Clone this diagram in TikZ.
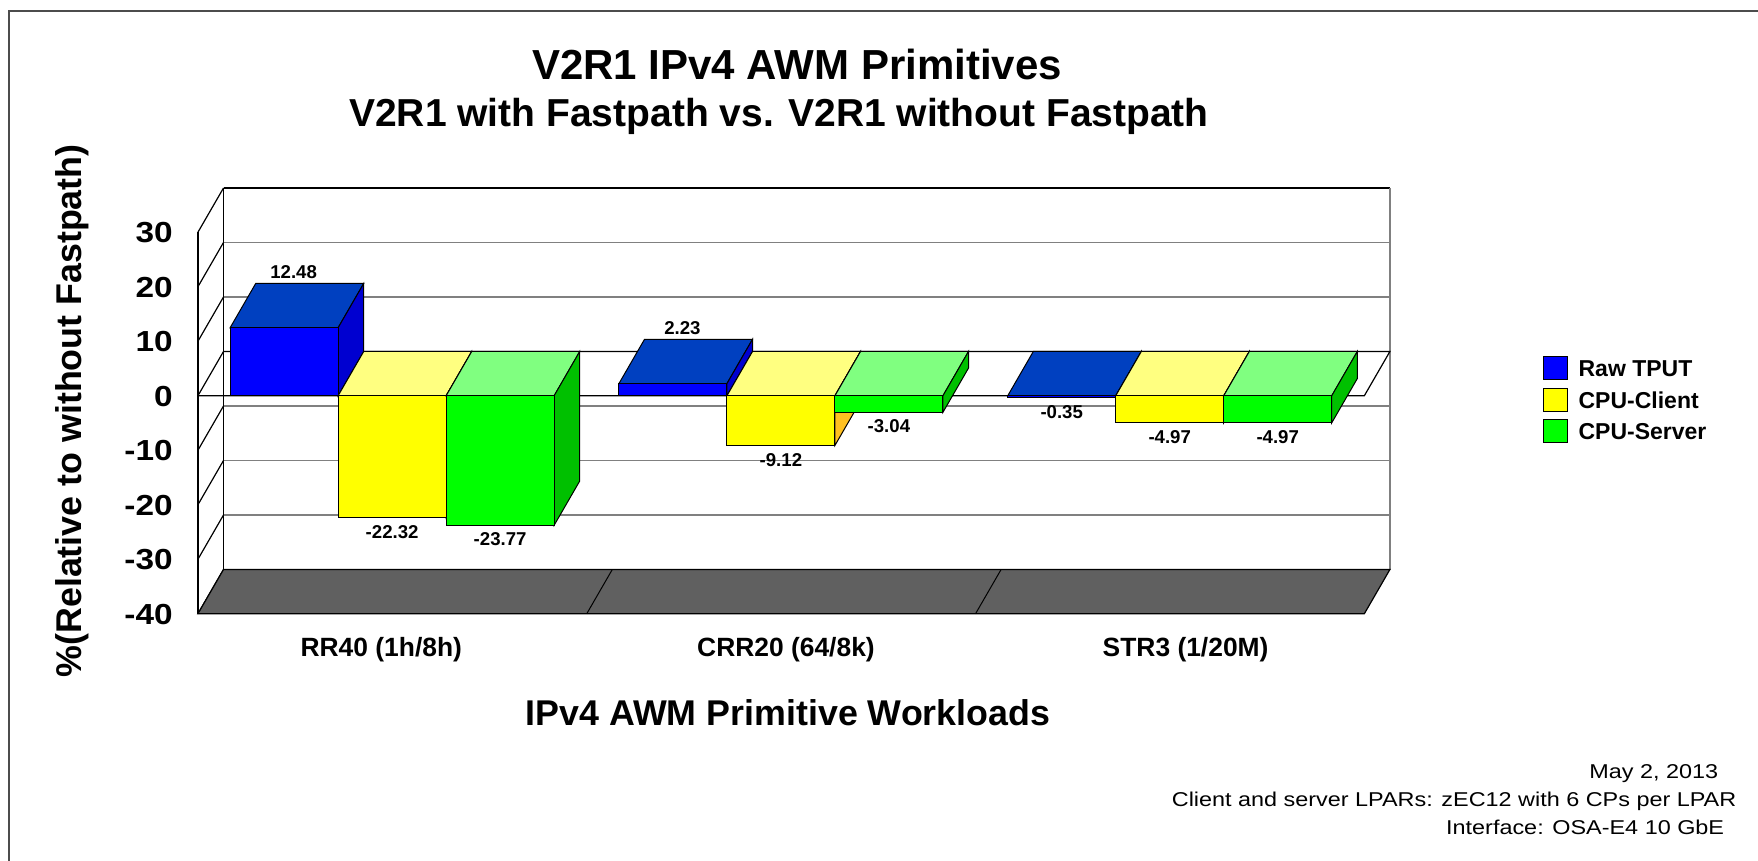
\documentclass[tikz,border=0pt]{standalone}
\usepackage{fontspec}
\setmainfont{Liberation Sans}
\usetikzlibrary{positioning}

\definecolor{tputfront}{HTML}{0000FF}
\definecolor{tputtop}{HTML}{0040C0}
\definecolor{tputside}{HTML}{0000D0}
\definecolor{clientfront}{HTML}{FFFF00}
\definecolor{clienttop}{HTML}{FFFF80}
\definecolor{clientside}{HTML}{FFC020}
\definecolor{serverfront}{HTML}{00FF00}
\definecolor{servertop}{HTML}{80FF80}
\definecolor{serverside}{HTML}{00C000}
\definecolor{floorgray}{HTML}{606060}

% depth offset, zero line and scale, in px
\def\dx{25.6}
\def\dy{44.3}
\def\zy{395.8}
\def\sc{5.45}

\newcommand{\drawbar}[3]{%
  \pgfmathsetmacro\yv{\zy-\sc*#2}
  \pgfmathsetmacro\yt{min(\yv,\zy)}
  \pgfmathsetmacro\yb{max(\yv,\zy)}
  \pgfmathsetmacro\xr{#1+108}
  \filldraw[face, fill=#3top] (#1,\yt) -- (#1+\dx,\yt-\dy) -- (\xr+\dx,\yt-\dy) -- (\xr,\yt) -- cycle;
  \filldraw[face, fill=#3side] (\xr,\yt) -- (\xr+\dx,\yt-\dy) -- (\xr+\dx,\yb-\dy) -- (\xr,\yb) -- cycle;
  \filldraw[face, fill=#3front] (#1,\yt) rectangle (\xr,\yb);
}

\begin{document}
\begin{tikzpicture}[x=0.5pt, y=-0.5pt, node distance=5pt,
    face/.style={draw=black, line width=0.5pt},
    grid/.style={draw=gray, line width=0.9pt},
    wall/.style={draw=black, line width=0.6pt},
    title/.style={font=\fontsize{21}{25}\selectfont\bfseries},
    subtitle/.style={font=\fontsize{19.5}{23}\selectfont\bfseries},
    axistitle/.style={font=\fontsize{17.9}{21}\selectfont\bfseries},
    tick/.style={font=\fontsize{14.5}{17}\selectfont\bfseries, inner sep=0},
    catlabel/.style={font=\fontsize{13.2}{16}\selectfont\bfseries, inner sep=0},
    vallabel/.style={font=\fontsize{9.3}{11}\selectfont\bfseries, inner sep=0},
    legbox/.style={draw=black, line width=0.5pt, minimum width=12.2pt, minimum height=11.5pt, inner sep=0},
    legtext/.style={font=\fontsize{11.5}{14}\selectfont\bfseries, inner sep=0},
    note/.style={font=\fontsize{10}{12}\selectfont, inner sep=0}]

    \useasboundingbox (0,0) rectangle (1758,861);
    \draw[gray!60!black, line width=1.2pt] (9,861) -- (9,11) -- (1758,11);

    % walls and grid
    \foreach \v [count=\n] in {30,20,...,-40} {
        \draw[grid] (223.5,{\zy-\sc*\v-\dy}) -- (1389.9,{\zy-\sc*\v-\dy});
        \draw[wall] (197.9,{\zy-\sc*\v}) -- ++(\dx,-\dy);
        \node[tick, anchor=base east] (tick\n) at (173,{\zy-\sc*\v+10.4}) {\scalebox{1.15}[1]{\v}};
    }
    \draw[wall] (223.5,188) -- (1389.9,188);
    \draw[wall] (197.9,232.3) -- (197.9,613.8) (223.5,188) -- (223.5,569.5);
    \draw[grid] (1389.9,188) -- (1389.9,569.5);
    \filldraw[wall, fill=floorgray] (197.9,613.8) -- (1364.3,613.8) -- (1389.9,569.5) -- (223.5,569.5) -- cycle;
    \foreach \k in {1,2}
        \draw[face] (197.9+388.8*\k,613.8) -- ++(\dx,-\dy);
    \draw[wall] (197.9,\zy) -- (1364.3,\zy) -- (1389.9,\zy-\dy) -- (223.5,\zy-\dy);

    % bars
    \foreach \x/\v/\c in {230.1/12.48/tput, 338.1/-22.32/client, 446.1/-23.77/server,
                          618.9/2.23/tput, 726.9/-9.12/client, 834.9/-3.04/server,
                          1007.7/-0.35/tput, 1115.7/-4.97/client, 1223.7/-4.97/server}
        \drawbar{\x}{\v}{\c};

    \foreach \x/\v [count=\i] in {230.1/12.48, 338.1/-22.32, 446.1/-23.77,
                                  618.9/2.23, 726.9/-9.12, 834.9/-3.04,
                                  1007.7/-0.35, 1115.7/-4.97, 1223.7/-4.97} {
        \pgfmathsetmacro\yv{\zy-\sc*\v}
        \ifdim \v pt>0pt
            \node[vallabel, anchor=base] (val\i) at (\x+63.5,\yv-\dy-4.5) {\v};
        \else
            \node[vallabel, anchor=base] (val\i) at (\x+54,\yv+20.6) {\v};
        \fi
    }

    \node[title, anchor=base] (title) at (797,80) {V2R1 IPv4 AWM Primitives};
    \node[subtitle, anchor=base] (subtitle) at (779,126.7) {V2R1 with Fastpath vs. V2R1 without Fastpath};
    \node[axistitle, rotate=90, anchor=base] (ylab) at (81.5,410.9) {\%(Relative to without Fastpath)};
    \node[axistitle, anchor=base] (xlab) at (788,725) {IPv4 AWM Primitive Workloads};

    \node[catlabel, anchor=base] (rr) at (381.3,656.7) {RR40 (1h/8h)};
    \node[catlabel, anchor=base] (crr) at (786,656.7) {CRR20 (64/8k)};
    \node[catlabel, anchor=base] (str) at (1185.6,656.7) {STR3 (1/20M)};

    % legend
    \foreach \c/\t [count=\i] in {tput/Raw TPUT, client/CPU-Client, server/CPU-Server} {
        \node[legbox, fill=\c front] (key\i) at (1555.5,{368.3+31.6*(\i-1)}) {};
        \node[legtext, right=5pt of key\i] (lab\i) {\t};
    }

    \node[note, anchor=base east] (date) at (1718.5,778.3) {\scalebox{1.17}[1]{May 2, 2013}};
    \node[note, anchor=base east] (lpars) at (1736.7,806) {\scalebox{1.17}[1]{Client and server LPARs: zEC12 with 6 CPs per LPAR}};
    \node[note, anchor=base east] (iface) at (1724.5,834) {\scalebox{1.17}[1]{Interface: OSA-E4 10 GbE}};
\end{tikzpicture}
\end{document}
